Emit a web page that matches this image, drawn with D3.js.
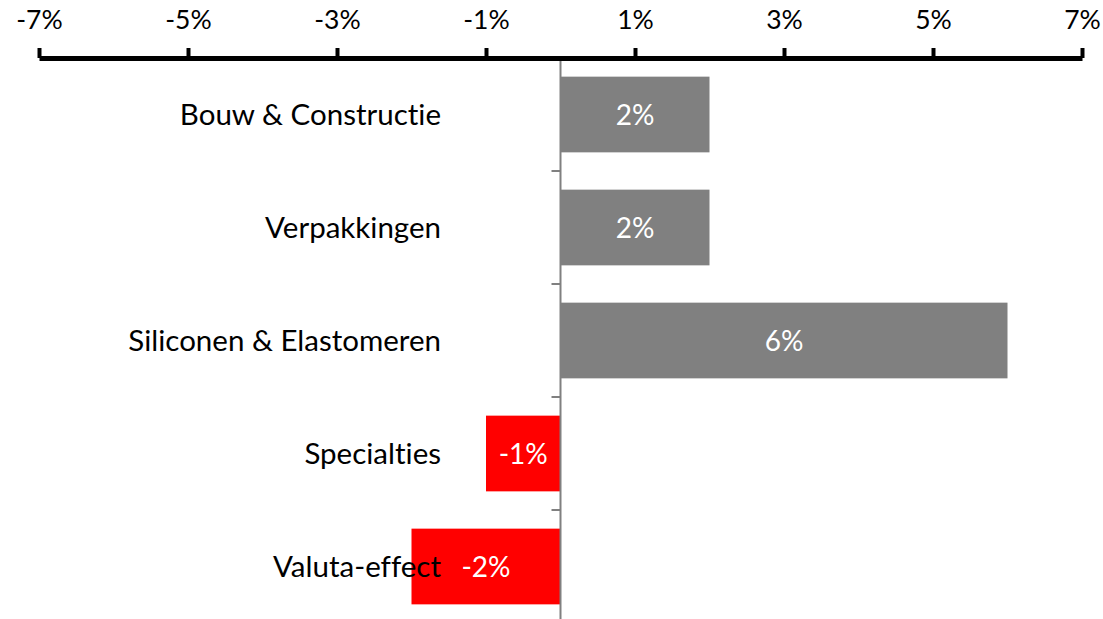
<!DOCTYPE html>
<html>
<head>
<meta charset="utf-8">
<script src="https://cdn.jsdelivr.net/npm/d3@7"></script>
<style>
  body { margin: 0; background: #ffffff; }
  svg { display: block; }
  text { font-variant-ligatures: none; font-feature-settings: "liga" 0; }
</style>
</head>
<body>
<svg id="chart"></svg>
<script>
const categories = ['Bouw & Constructie', 'Verpakkingen', 'Siliconen & Elastomeren', 'Specialties', 'Valuta-effect'];
const values = [2, 2, 6, -1, -2];
const tickValues = [-7, -5, -3, -1, 1, 3, 5, 7];

const width = 1103, height = 619;
const font = 'Lato, "Open Sans", sans-serif';

const svg = d3.select('#chart')
  .attr('width', width)
  .attr('height', height);

const x = d3.scaleLinear()
  .domain([-7, 7])
  .range([39, 1082]);

const y = d3.scaleBand()
  .domain(categories)
  .range([58, 623])
  .paddingInner(0.33)
  .paddingOuter(0.165);

// bars
svg.selectAll('.bar')
  .data(values)
  .enter().append('rect')
  .attr('class', 'bar')
  .attr('x', d => x(Math.min(0, d)))
  .attr('y', (d, i) => y(categories[i]))
  .attr('width', d => Math.abs(x(d) - x(0)))
  .attr('height', y.bandwidth())
  .attr('fill', d => d < 0 ? '#ff0000' : '#808080');

// value labels
svg.selectAll('.val')
  .data(values)
  .enter().append('text')
  .attr('class', 'val')
  .attr('x', d => (x(d) + x(0)) / 2)
  .attr('y', (d, i) => y(categories[i]) + y.bandwidth() / 2)
  .attr('dy', '0.36em')
  .attr('text-anchor', 'middle')
  .attr('fill', '#ffffff')
  .attr('font-family', font)
  .attr('font-size', 28)
  .text(d => d + '%');

// vertical axis at zero
const step = y.step();
const bounds = d3.range(categories.length + 1).map(i => 58 + i * step);
svg.append('line')
  .attr('x1', x(0)).attr('x2', x(0))
  .attr('y1', 58).attr('y2', height)
  .attr('stroke', '#808080')
  .attr('stroke-width', 2);

svg.selectAll('.ctick')
  .data(bounds)
  .enter().append('line')
  .attr('class', 'ctick')
  .attr('x1', x(0) - 9).attr('x2', x(0))
  .attr('y1', d => d).attr('y2', d => d)
  .attr('stroke', '#808080')
  .attr('stroke-width', 2);

// category labels (drawn on top of bars)
svg.selectAll('.cat')
  .data(categories)
  .enter().append('text')
  .attr('class', 'cat')
  .attr('x', 441)
  .attr('y', d => y(d) + y.bandwidth() / 2)
  .attr('dy', '0.36em')
  .attr('text-anchor', 'end')
  .attr('fill', '#000000')
  .attr('font-family', font)
  .attr('font-size', 29.5)
  .text(d => d);

// top axis
const axis = svg.append('g')
  .attr('transform', 'translate(0,58)')
  .call(d3.axisTop(x)
    .tickValues(tickValues)
    .tickFormat(d => d + '%')
    .tickSizeInner(10)
    .tickSizeOuter(0)
    .tickPadding(19));

axis.select('.domain')
  .attr('stroke', '#000000')
  .attr('stroke-width', 5);
axis.selectAll('.tick line')
  .attr('stroke', '#000000')
  .attr('stroke-width', 4);
axis.selectAll('.tick text')
  .attr('fill', '#000000')
  .attr('font-family', font)
  .attr('font-size', 26.5);
</script>
</body>
</html>
